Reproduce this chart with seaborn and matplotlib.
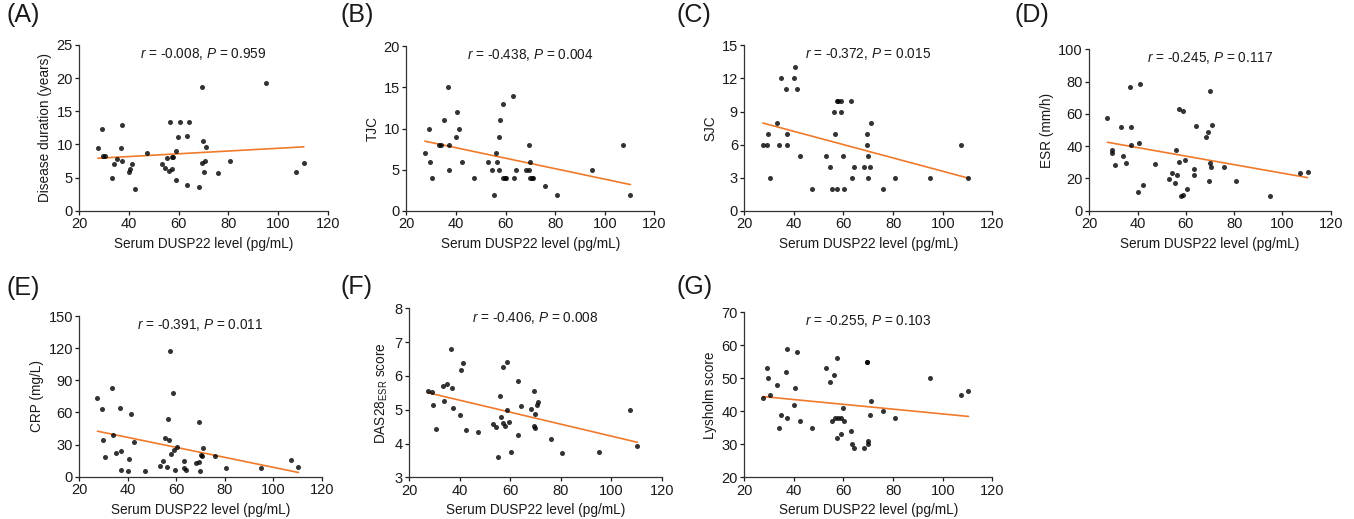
import numpy as np
import pandas as pd
import matplotlib
matplotlib.use("Agg")
import matplotlib.pyplot as plt
import seaborn as sns

# Serum DUSP22 level (pg/mL), shared x for all panels
dusp22 = [27.5, 29.2, 29.6, 30.5, 33.3, 34.0, 35.0, 36.7, 37.2, 37.3,
          40.0, 40.4, 41.2, 42.4, 47.2, 53.1, 54.4, 55.4, 56.0, 56.5,
          57.2, 57.3, 57.9, 58.8, 58.9, 59.6, 60.4, 63.2, 63.3, 64.2,
          68.3, 69.3, 69.5, 69.9, 70.0, 70.6, 70.9, 76.0, 80.6, 95.0,
          107.3, 110.4]

disease_duration = [9.5, 12.3, 8.25, 8.25, 4.9, 7.0, 7.85, 9.5, 12.9, 7.45,
                    5.9, 6.3, 7.0, 3.3, 8.75, 7.1, 6.4, 8.0, 6.0, 13.4,
                    6.3, 8.05, 8.1, 9.05, 4.7, 11.1, 13.4, 11.3, 3.9, 13.4,
                    3.6, 7.2, 18.6, 10.5, 5.9, 7.45, 9.55, 5.7, 7.55, 19.2,
                    5.9, 7.2]

tjc = [7, 10, 6, 4, 8, 8, 11, 15, 8, 5,
       9, 12, 10, 6, 4, 6, 5, 2, 7, 6,
       9, 5, 11, 13, 4, 4, 4, 14, 4, 5,
       5, 5, 8, 6, 4, 4, 4, 3, 2, 5,
       8, 2]

sjc = [6, 6, 7, 3, 8, 6, 12, 11, 7, 6,
       12, 13, 11, 5, 2, 5, 4, 2, 9, 7,
       2, 10, 10, 10, 9, 5, 2, 10, 3, 4,
       4, 7, 6, 5, 3, 4, 8, 2, 3, 3,
       6, 3]

esr = [57.6, 37.4, 35.7, 28.5, 52.1, 33.7, 29.3, 76.9, 52.1, 40.9,
       11.4, 42.1, 78.7, 15.7, 28.7, 19.6, 23.6, 17.4, 37.6, 22.1,
       30.4, 63.0, 9.3, 61.8, 9.7, 31.2, 13.4, 25.8, 22.3, 52.5,
       45.7, 48.6, 18.2, 74.2, 29.3, 27.1, 53.1, 26.9, 18.2, 9.3,
       23.3, 24.0]

crp = [73.1, 63.5, 34.5, 18.1, 83.1, 38.9, 22.4, 64.4, 24.3, 6.2,
       5.3, 16.8, 58.8, 32.1, 5.0, 10.3, 14.6, 36.4, 8.7, 53.8,
       33.9, 117.0, 21.5, 78.1, 24.6, 6.2, 27.7, 14.6, 7.8, 5.9,
       13.1, 50.7, 13.4, 5.0, 20.2, 19.3, 26.8, 19.0, 8.4, 8.4,
       15.6, 9.3]

das28 = [5.56, 5.53, 5.14, 4.43, 5.71, 5.26, 5.76, 6.79, 5.65, 5.06,
         4.85, 6.17, 6.38, 4.39, 4.33, 4.57, 4.49, 3.59, 5.41, 4.78,
         6.25, 4.60, 4.51, 4.98, 6.41, 4.65, 3.76, 5.84, 4.24, 5.11,
         5.01, 5.55, 4.51, 4.87, 4.47, 5.15, 5.23, 4.12, 3.73, 3.74,
         4.99, 3.94]

lysholm = [44, 53, 50, 45, 48, 35, 39, 52, 59, 38,
           42, 47, 58, 37, 35, 53, 49, 37, 51, 38,
           56, 32, 38, 33, 38, 41, 37, 34, 30, 29,
           29, 55, 55, 31, 30, 39, 43, 40, 38, 50,
           45, 46]

panel_letters = ["(A)", "(B)", "(C)", "(D)", "(E)", "(F)", "(G)"]
y_labels = ["Disease duration (years)", "TJC", "SJC", "ESR (mm/h)", "CRP (mg/L)",
            "DAS28$_{\\mathregular{ESR}}$ score", "Lysholm score"]
r_values = ["-0.008", "-0.438", "-0.372", "-0.245", "-0.391", "-0.406", "-0.255"]
p_values = ["0.959", "0.004", "0.015", "0.117", "0.011", "0.008", "0.103"]
y_limits = [(0, 25), (0, 20), (0, 15), (0, 100), (0, 150), (3, 8), (20, 70)]
y_ticks = [[0, 5, 10, 15, 20, 25], [0, 5, 10, 15, 20], [0, 3, 6, 9, 12, 15],
           [0, 20, 40, 60, 80, 100], [0, 30, 60, 90, 120, 150],
           [3, 4, 5, 6, 7, 8], [20, 30, 40, 50, 60, 70]]
x_ticks = [20, 40, 60, 80, 100, 120]
series = [disease_duration, tjc, sjc, esr, crp, das28, lysholm]

sns.set_theme(style="ticks")
plt.rcParams['font.family'] = ['Liberation Sans', 'DejaVu Sans']
plt.rcParams['mathtext.fontset'] = 'custom'
plt.rcParams['mathtext.rm'] = 'Liberation Sans'
plt.rcParams['mathtext.it'] = 'Liberation Sans:italic'

W, H = 1354, 519
fig = plt.figure(figsize=(W / 100, H / 100), dpi=100)

# axes boxes in pixels: left, right, top, bottom
boxes = [(79.3, 327.7, 45.0, 210.7),
         (406.3, 654.3, 46.0, 211.0),
         (744.3, 992.3, 45.3, 211.0),
         (1089.3, 1330.7, 49.3, 210.7),
         (79.3, 321.7, 316.0, 476.7),
         (409.0, 661.7, 308.3, 477.3),
         (744.3, 992.3, 312.3, 477.3)]
label_pos = [(6, 15), (340, 15), (676, 15), (1015, 15),
             (6, 288), (340, 287), (676, 287)]

orange = "#F07A2A"
txt = "#1a1a1a"
for i in range(7):
    l, r, t, b = boxes[i]
    ax = fig.add_axes([l / W, (H - b) / H, (r - l) / W, (b - t) / H])
    df = pd.DataFrame({"x": dusp22, "y": series[i]})
    sns.regplot(data=df, x="x", y="y", ax=ax, ci=None, truncate=True,
                scatter_kws=dict(s=13, color="black", linewidths=0, zorder=3),
                line_kws=dict(color=orange, lw=1.2, zorder=2))
    ax.set_xlim(20, 120)
    ax.set_ylim(*y_limits[i])
    ax.set_xticks(x_ticks)
    ax.set_yticks(y_ticks[i])
    ax.set_xlabel("Serum DUSP22 level (pg/mL)", fontsize=9.8, labelpad=4, color=txt)
    ax.set_ylabel(y_labels[i], fontsize=9.8, labelpad=3, color=txt)
    ax.tick_params(axis="both", labelsize=10.5, length=2.8, width=0.9, pad=1.8,
                   colors=txt, direction="out")
    for s in ["top", "right"]:
        ax.spines[s].set_visible(False)
    for s in ["left", "bottom"]:
        ax.spines[s].set_linewidth(0.9)
        ax.spines[s].set_color("#333333")
    ax.text(0.5, 0.945, "$r$ = " + r_values[i] + ", $P$ = " + p_values[i],
            transform=ax.transAxes, ha="center", va="center", fontsize=9.8,
            color=txt)
    lx, ly = label_pos[i]
    fig.text(lx / W, 1 - ly / H, panel_letters[i], fontsize=18, ha="left",
             va="center", color=txt)

fig.savefig("out.png", dpi=100, facecolor="white")
